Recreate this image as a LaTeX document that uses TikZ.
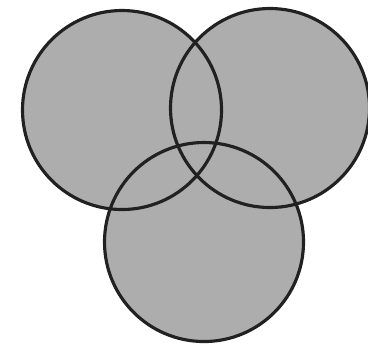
\documentclass[tikz,border=0pt]{standalone}
\usepackage{xcolor}
\usepackage{tikz}
\usetikzlibrary{positioning, backgrounds}

\definecolor{discgray}{gray}{0.68}
\definecolor{rimblack}{gray}{0.13}

\begin{document}
\begin{tikzpicture}[disc/.style={draw=rimblack, line width=0.9pt, circle, minimum size=1.99cm, inner sep=0pt, outer sep=0pt}]
      \useasboundingbox (0, 0) rectangle (3.68, 3.48);

      % Three overlapping circles
      \node[disc] (lft) at (1.22, 2.38) {};
      \node[disc] (rgt) at (2.70, 2.40) {};
      \node[disc] (bot) at (2.04, 1.06) {};

      % Grey fill behind the outlines
      \begin{scope}[on background layer]
        \fill[discgray] (lft.center) circle (0.995);
        \fill[discgray] (rgt.center) circle (0.995);
        \fill[discgray] (bot.center) circle (0.995);
      \end{scope}
    \end{tikzpicture}
\end{document}
